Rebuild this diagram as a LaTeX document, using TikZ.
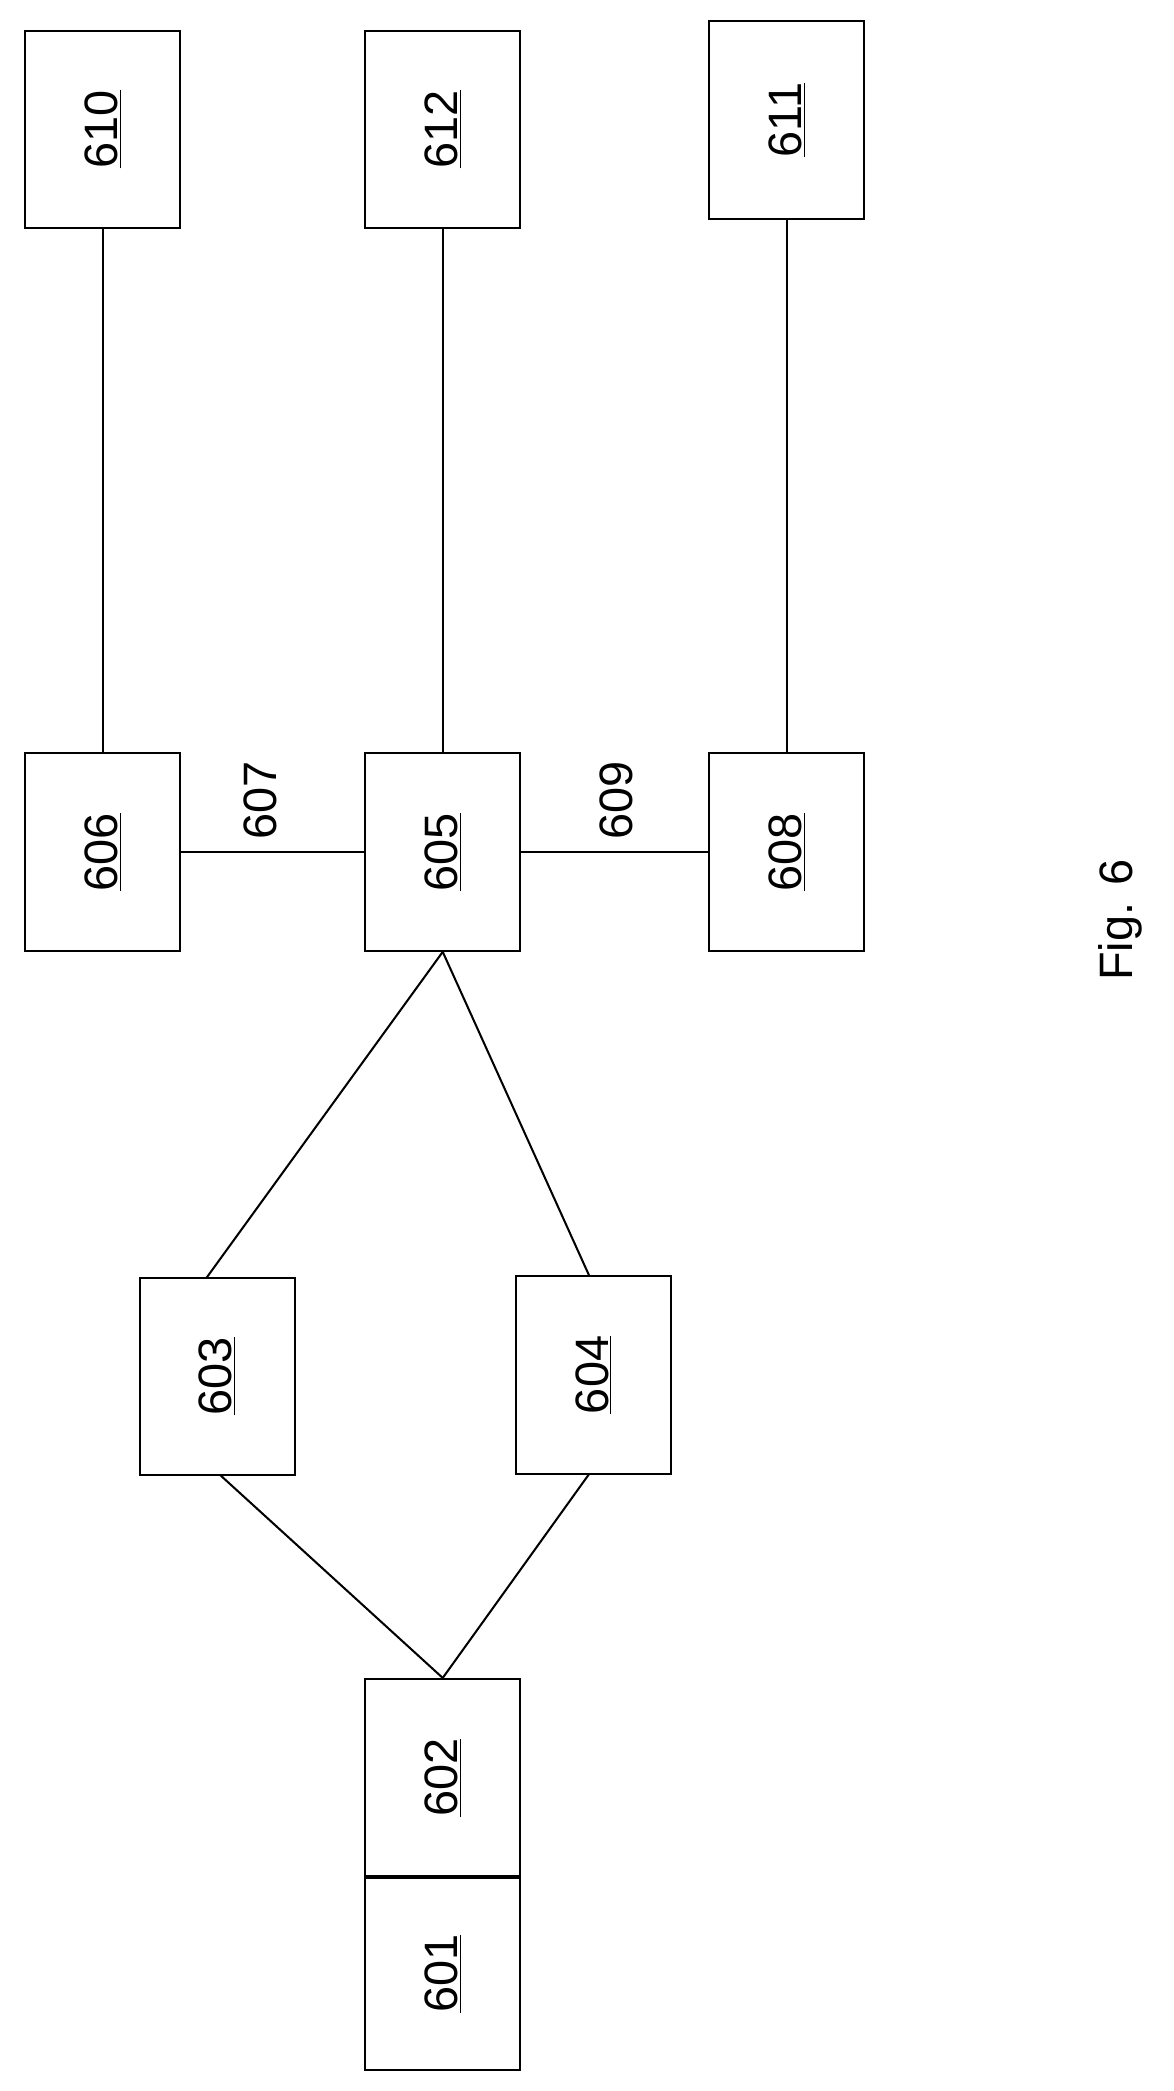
\documentclass[tikz,border=0pt]{standalone}
\usepackage{fontspec}
\setmainfont{Liberation Sans}
\tikzset{
	box/.style={
		rectangle,
		draw=black, line width=1.3pt,
		minimum width=3.48cm, minimum height=4.44cm,
		inner sep=0pt,
		font=\fontsize{30}{36}\selectfont,
	},
	lbl/.style={font=\fontsize{30}{36}\selectfont, rotate=90},
}
\newcommand{\num}[1]{\rotatebox{90}{\underline{#1}}}

\begin{document}
\begin{tikzpicture}[x=0.03cm, y=-0.03cm, line width=1.3pt]
        \useasboundingbox (0,0) rectangle (880,1568);
        \node[box] (B610) at (77,97) {\num{610}};
        \node[box] (B612) at (332,97) {\num{612}};
        \node[box] (B611) at (590,90) {\num{611}};
        \node[box] (B606) at (77,639) {\num{606}};
        \node[box] (B605) at (332,639) {\num{605}};
        \node[box] (B608) at (590,639) {\num{608}};
        \node[box] (B603) at (163,1032) {\num{603}};
        \node[box] (B604) at (445,1031) {\num{604}};
        \node[box] (B602) at (332,1333) {\num{602}};
        \node[box, minimum height=4.32cm] (B601) at (332,1480) {\num{601}};

        \draw (B606) -- (B610);
        \draw (B605) -- (B612);
        \draw (B608) -- (B611);
        \draw (B606) -- (B605);
        \draw (B605) -- (B608);
        \node[lbl] (L607) at (195,600) {607};
        \node[lbl] (L609) at (462,600) {609};
        \coordinate (t603) at (155,958);
        \coordinate (t604) at (442,957);
        \coordinate (b603) at (165,1106);
        \coordinate (b604) at (442,1105);
        \draw (B605.south) -- (t603);
        \draw (B605.south) -- (t604);
        \draw (b603) -- (B602.north);
        \draw (b604) -- (B602.north);
        \node[lbl] (fig) at (840,690) {Fig. 6};
    \end{tikzpicture}
\end{document}
